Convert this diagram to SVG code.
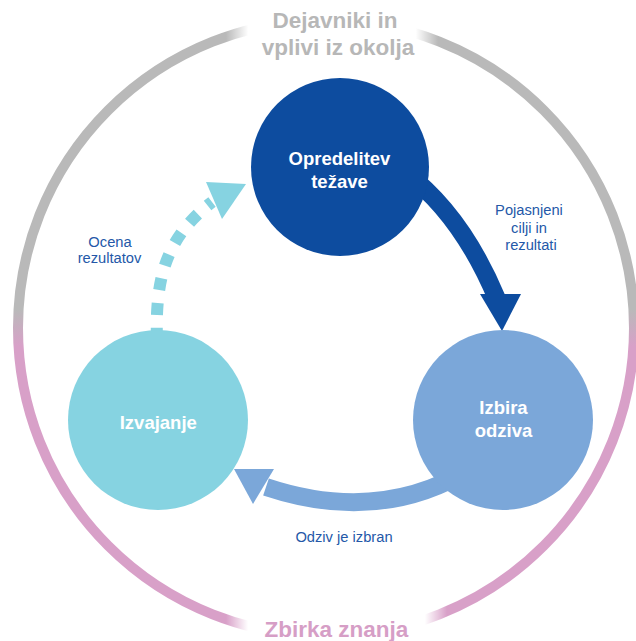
<svg xmlns="http://www.w3.org/2000/svg" width="636" height="641" viewBox="0 0 636 641">
  <defs>
    <linearGradient id="ringGrad" gradientUnits="userSpaceOnUse" x1="0" y1="20" x2="0" y2="636">
      <stop offset="0" stop-color="#b9b9b9"/>
      <stop offset="0.47" stop-color="#b9b9b9"/>
      <stop offset="0.53" stop-color="#d8a0c8"/>
      <stop offset="1" stop-color="#d8a0c8"/>
    </linearGradient>
    <linearGradient id="fadeTop" x1="0" y1="0" x2="1" y2="0">
      <stop offset="0" stop-color="#fff" stop-opacity="0"/>
      <stop offset="0.105" stop-color="#fff" stop-opacity="1"/>
      <stop offset="0.895" stop-color="#fff" stop-opacity="1"/>
      <stop offset="1" stop-color="#fff" stop-opacity="0"/>
    </linearGradient>
    <linearGradient id="fadeBottom" x1="0" y1="0" x2="1" y2="0">
      <stop offset="0" stop-color="#fff" stop-opacity="0"/>
      <stop offset="0.1" stop-color="#fff" stop-opacity="1"/>
      <stop offset="0.9" stop-color="#fff" stop-opacity="1"/>
      <stop offset="1" stop-color="#fff" stop-opacity="0"/>
    </linearGradient>
  </defs>
  <style>
    .title { font-family: "Liberation Sans", Arial, Helvetica, sans-serif; font-weight: bold; font-size: 22.5px; text-anchor: middle; }
    .node-text { font-family: "Liberation Sans", Arial, Helvetica, sans-serif; font-weight: bold; font-size: 18.5px; fill: #ffffff; text-anchor: middle; }
    .label { font-family: "Liberation Sans", Arial, Helvetica, sans-serif; font-size: 14.7px; fill: #2458a8; text-anchor: middle; }
    .shaft { fill: none; stroke-width: 18; }
  </style>
  <rect x="0" y="0" width="636" height="641" fill="#ffffff"/>

  <g id="ring">
    <circle cx="326" cy="328" r="308" fill="none" stroke="url(#ringGrad)" stroke-width="10"/>
    <rect x="226" y="0" width="212" height="52" fill="url(#fadeTop)"/>
    <rect x="226" y="603" width="221" height="38" fill="url(#fadeBottom)"/>
    <text class="title" x="335" y="28" fill="#b7b7b7">Dejavniki in</text>
    <text class="title" x="338" y="55" fill="#b7b7b7">vplivi iz okolja</text>
    <text class="title" x="336.5" y="636.5" fill="#d69ec6">Zbirka znanja</text>
  </g>

  <g id="connectors">
    <path class="shaft" d="M 405,172 Q 462,215 497,299" stroke="#0d4c9f"/>
    <polygon points="480,294 521,294 502,331" fill="#0d4c9f"/>
    <path class="shaft" d="M 472,468 Q 380,525 266,487" stroke="#7ba7d9"/>
    <polygon points="274,469 253,504 234,469" fill="#7ba7d9"/>
    <path d="M 157,340 C 155,280 165,238 212,202" fill="none" stroke="#86d3e1" stroke-width="12" stroke-dasharray="12 13"/>
    <polygon points="206,182 246,184 222,219" fill="#86d3e1"/>
  </g>

  <g id="node-opredelitev">
    <circle cx="340" cy="167" r="89" fill="#0d4c9f"/>
    <text class="node-text" x="339.5" y="165">Opredelitev</text>
    <text class="node-text" x="339.5" y="188">težave</text>
  </g>

  <g id="node-izbira">
    <circle cx="503" cy="420" r="90" fill="#7ba7d9"/>
    <text class="node-text" x="503.5" y="414">Izbira</text>
    <text class="node-text" x="503.5" y="437">odziva</text>
  </g>

  <g id="node-izvajanje">
    <circle cx="158" cy="420" r="90" fill="#86d3e1"/>
    <text class="node-text" x="158.3" y="429">Izvajanje</text>
  </g>

  <g id="labels">
    <text class="label" x="529" y="215">Pojasnjeni</text>
    <text class="label" x="529" y="233">cilji in</text>
    <text class="label" x="531" y="250">rezultati</text>
    <text class="label" x="110" y="247">Ocena</text>
    <text class="label" x="109.5" y="263">rezultatov</text>
    <text class="label" x="344" y="542">Odziv je izbran</text>
  </g>
</svg>
